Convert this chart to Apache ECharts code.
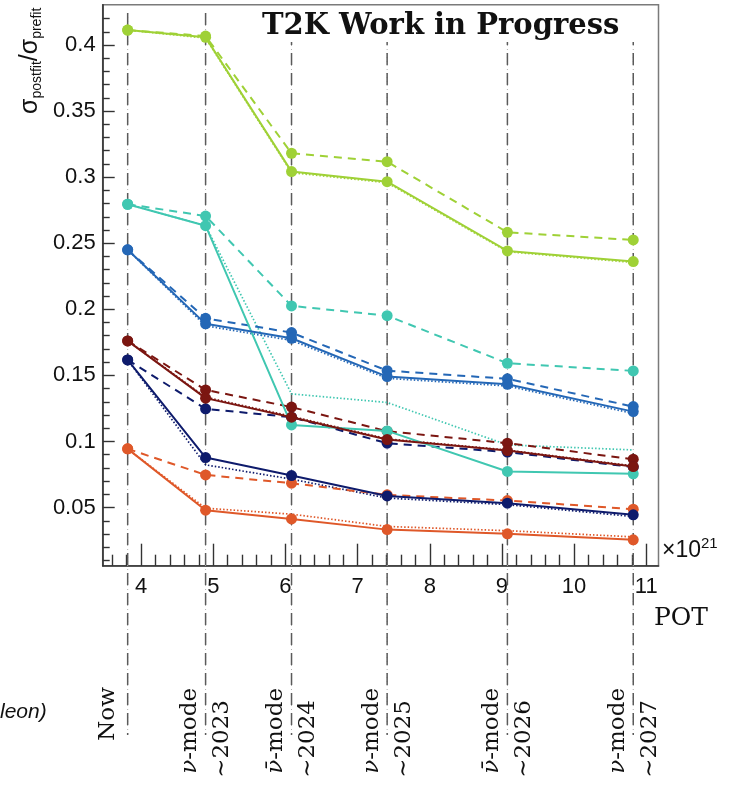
<!DOCTYPE html>
<html>
<head>
<meta charset="utf-8">
<script src="https://cdn.jsdelivr.net/npm/echarts@6/dist/echarts.min.js"></script>
<style>
  html, body { margin: 0; padding: 0; background: #ffffff; }
  #chart { width: 730px; height: 785px; }
</style>
</head>
<body>
<div id="chart"></div>
<script>
// Accumulated protons on target (x10^21) at each run stage
const potValues = [3.813, 4.893, 6.084, 7.409, 9.076, 10.82];
const stageModes = ['', 'ν', 'ν̄', 'ν', 'ν̄', 'ν'];
const stageYears = ['Now', '∼2023', '∼2024', '∼2025', '∼2026', '∼2027'];

// sigma_postfit / sigma_prefit for each parameter (solid / dashed / dotted variants)
const greenSolid   = [0.4113, 0.4058, 0.3042, 0.2966, 0.2442, 0.2361];
const greenDashed  = [0.4113, 0.4068, 0.3181, 0.3117, 0.2583, 0.2525];
const greenDotted  = [0.4113, 0.4052, 0.3034, 0.2958, 0.2436, 0.2354];

const tealSolid    = [0.2795, 0.2633, 0.1125, 0.1080, 0.0773, 0.0755];
const tealDashed   = [0.2795, 0.2706, 0.2026, 0.1952, 0.1592, 0.1534];
const tealDotted   = [0.2795, 0.2633, 0.1360, 0.1295, 0.0974, 0.0936];

const blueSolid    = [0.2450, 0.1890, 0.1781, 0.1491, 0.1433, 0.1226];
const blueDashed   = [0.2450, 0.1932, 0.1824, 0.1536, 0.1474, 0.1264];
const blueDotted   = [0.2450, 0.1875, 0.1765, 0.1478, 0.1420, 0.1212];

const redSolid     = [0.1761, 0.1328, 0.1184, 0.1015, 0.0931, 0.0810];
const redDashed    = [0.1761, 0.1390, 0.1260, 0.1078, 0.0987, 0.0866];
const redDotted    = [0.1761, 0.1335, 0.1190, 0.1020, 0.0935, 0.0815];

const navySolid    = [0.1617, 0.0878, 0.0742, 0.0588, 0.0533, 0.0445];
const navyDashed   = [0.1617, 0.1247, 0.1184, 0.0987, 0.0920, 0.0806];
const navyDotted   = [0.1617, 0.0823, 0.0715, 0.0572, 0.0522, 0.0432];

const orangeSolid  = [0.0944, 0.0480, 0.0414, 0.0333, 0.0301, 0.0256];
const orangeDashed = [0.0944, 0.0747, 0.0684, 0.0596, 0.0553, 0.0488];
const orangeDotted = [0.0944, 0.0495, 0.0450, 0.0357, 0.0325, 0.0278];

// Axis ticks
const xMajorTicks = [4, 5, 6, 7, 8, 9, 10, 11];
const xMinorTicks = [3.6, 3.8, 4.2, 4.4, 4.6, 4.8, 5.2, 5.4, 5.6, 5.8, 6.2, 6.4, 6.6, 6.8,
                     7.2, 7.4, 7.6, 7.8, 8.2, 8.4, 8.6, 8.8, 9.2, 9.4, 9.6, 9.8,
                     10.2, 10.4, 10.6, 10.8, 11.2];
const yMajorTicks = [0.05, 0.1, 0.15, 0.2, 0.25, 0.3, 0.35, 0.4];
const yMinorTicks = [0.01, 0.02, 0.03, 0.04, 0.06, 0.07, 0.08, 0.09, 0.11, 0.12, 0.13, 0.14,
                     0.16, 0.17, 0.18, 0.19, 0.21, 0.22, 0.23, 0.24, 0.26, 0.27, 0.28, 0.29,
                     0.31, 0.32, 0.33, 0.34, 0.36, 0.37, 0.38, 0.39, 0.41, 0.42];

const X_MIN = 3.467, X_MAX = 11.17;
const Y_MIN = 0.006, Y_MAX = 0.4305;

const groups = [
  { color: '#9fd136', solid: greenSolid,  dashed: greenDashed,  dotted: greenDotted },
  { color: '#40c7b1', solid: tealSolid,   dashed: tealDashed,   dotted: tealDotted },
  { color: '#2467b6', solid: blueSolid,   dashed: blueDashed,   dotted: blueDotted },
  { color: '#7b1611', solid: redSolid,    dashed: redDashed,    dotted: redDotted },
  { color: '#0e1b6c', solid: navySolid,   dashed: navyDashed,   dotted: navyDotted },
  { color: '#df5829', solid: orangeSolid, dashed: orangeDashed, dotted: orangeDotted }
];

function pairs(vals) { return vals.map((v, i) => [potValues[i], v]); }

const series = [];
groups.forEach(g => {
  series.push({
    type: 'line', data: pairs(g.dotted), symbol: 'none', silent: true, z: 2,
    lineStyle: { color: g.color, width: 1.7, type: [1.5, 2] }
  });
});
groups.forEach(g => {
  series.push({
    type: 'line', data: pairs(g.dashed), symbol: 'circle', symbolSize: 11, z: 3,
    itemStyle: { color: g.color }, lineStyle: { color: g.color, width: 2, type: [8, 6] }
  });
  series.push({
    type: 'line', data: pairs(g.solid), symbol: 'circle', symbolSize: 11, z: 4,
    itemStyle: { color: g.color }, lineStyle: { color: g.color, width: 2 }
  });
});

const SANS = 'Liberation Sans, Arial, sans-serif';
const SERIF = 'DejaVu Serif, serif';

const chart = echarts.init(document.getElementById('chart'), null, { renderer: 'canvas' });

chart.setOption({
  animation: false,
  backgroundColor: '#ffffff',
  grid: {
    left: 102.7, right: 71.5, top: 4.7, bottom: 219.3,
    show: true, borderColor: '#7a7a7a', borderWidth: 1.5, backgroundColor: 'transparent'
  },
  xAxis: [
    {
      type: 'value', min: X_MIN, max: X_MAX, position: 'bottom',
      axisLine: { show: true, lineStyle: { color: '#333', width: 1.6 } },
      axisTick: { show: true, inside: true, length: 22, customValues: xMajorTicks, lineStyle: { color: '#333', width: 1.4 } },
      axisLabel: { customValues: xMajorTicks, fontSize: 22, color: '#111', margin: 10, fontFamily: SANS },
      splitLine: { show: false }
    },
    {
      type: 'value', min: X_MIN, max: X_MAX, position: 'bottom',
      axisLine: { show: false },
      axisTick: { show: true, inside: true, length: 11, customValues: xMinorTicks, lineStyle: { color: '#333', width: 1.4 } },
      axisLabel: { show: false },
      splitLine: { show: false }
    }
  ],
  yAxis: [
    {
      type: 'value', min: Y_MIN, max: Y_MAX, position: 'left',
      axisLine: { show: true, lineStyle: { color: '#333', width: 1.6 } },
      axisTick: { show: true, inside: true, length: 12, customValues: yMajorTicks, lineStyle: { color: '#333', width: 1.4 } },
      axisLabel: { customValues: yMajorTicks, fontSize: 22, color: '#111', margin: 7, fontFamily: SANS },
      splitLine: { show: false }
    },
    {
      type: 'value', min: Y_MIN, max: Y_MAX, position: 'left',
      axisLine: { show: false },
      axisTick: { show: true, inside: true, length: 7, customValues: yMinorTicks, lineStyle: { color: '#333', width: 1.4 } },
      axisLabel: { show: false },
      splitLine: { show: false }
    }
  ],
  series: series
});

// Run-stage guide lines and annotations, placed via the chart's own coordinate conversion
const guideTop = 13, guideBottom = 735;
const elements = [];
potValues.forEach((pot, i) => {
  const x = chart.convertToPixel({ xAxisIndex: 0 }, pot);
  elements.push({
    type: 'line', z: 1, silent: true,
    shape: { x1: x, y1: guideTop, x2: x, y2: guideBottom },
    style: { stroke: '#b0b0b0', lineWidth: 1, lineDash: [1, 3] }
  });
  elements.push({
    type: 'line', z: 1, silent: true,
    shape: { x1: x, y1: guideTop, x2: x, y2: guideBottom },
    style: { stroke: '#5a5a5a', lineWidth: 1.5, lineDash: [12, 8] }
  });
  if (i === 0) {
    elements.push({
      type: 'text', z: 5, x: x - 8, y: 714, rotation: Math.PI / 2,
      style: { text: stageYears[i], font: '23px ' + SERIF, fill: '#111',
               align: 'center', verticalAlign: 'bottom' }
    });
  } else {
    elements.push({
      type: 'text', z: 5, x: x - 4, y: 688, rotation: Math.PI / 2,
      style: {
        text: '{nu|' + stageModes[i] + '}{t|-mode}',
        align: 'right', verticalAlign: 'bottom',
        rich: {
          nu: { font: 'italic 23px ' + SERIF, fill: '#111' },
          t: { font: '23px ' + SERIF, fill: '#111' }
        }
      }
    });
    elements.push({
      type: 'text', z: 5, x: x + 5, y: 700, rotation: Math.PI / 2,
      style: { text: stageYears[i], font: '23px ' + SERIF, fill: '#111',
               align: 'right', verticalAlign: 'top' }
    });
  }
});

// Title banner
elements.push({
  type: 'rect', z: 4, silent: true,
  shape: { x: 255, y: 6, width: 402, height: 36 },
  style: { fill: '#ffffff' }
});
elements.push({
  type: 'text', z: 5, x: 262, y: 26,
  style: { text: 'T2K Work in Progress', font: 'bold 29px ' + SERIF, fill: '#111',
           align: 'left', verticalAlign: 'middle' }
});

// Y axis title
elements.push({
  type: 'text', z: 5, x: 16, y: 114, rotation: Math.PI / 2,
  style: {
    text: '{s|σ}{b|postfit}{s|/σ}{b|prefit}',
    align: 'left', verticalAlign: 'top',
    rich: {
      s: { font: '25px ' + SANS, fill: '#111', lineHeight: 28, verticalAlign: 'middle' },
      b: { font: '14px ' + SANS, fill: '#111', lineHeight: 15, verticalAlign: 'bottom' }
    }
  }
});

// Axis scale and unit
elements.push({
  type: 'text', z: 5, x: 662, y: 549,
  style: {
    text: '{a|×10}{b|21}', align: 'left', verticalAlign: 'middle',
    rich: {
      a: { font: '23px ' + SANS, fill: '#111', lineHeight: 26, verticalAlign: 'bottom' },
      b: { font: '15px ' + SANS, fill: '#111', lineHeight: 26, verticalAlign: 'top' }
    }
  }
});
elements.push({
  type: 'text', z: 5, x: 654, y: 618,
  style: { text: 'POT', font: '25px ' + SERIF, fill: '#111', align: 'left', verticalAlign: 'middle' }
});

// Trailing fragment of a side note
elements.push({
  type: 'text', z: 5, x: 0, y: 712,
  style: { text: 'leon)', font: 'italic 21px ' + SANS, fill: '#111', align: 'left', verticalAlign: 'middle' }
});

chart.setOption({ graphic: { elements: elements } });
</script>
</body>
</html>
